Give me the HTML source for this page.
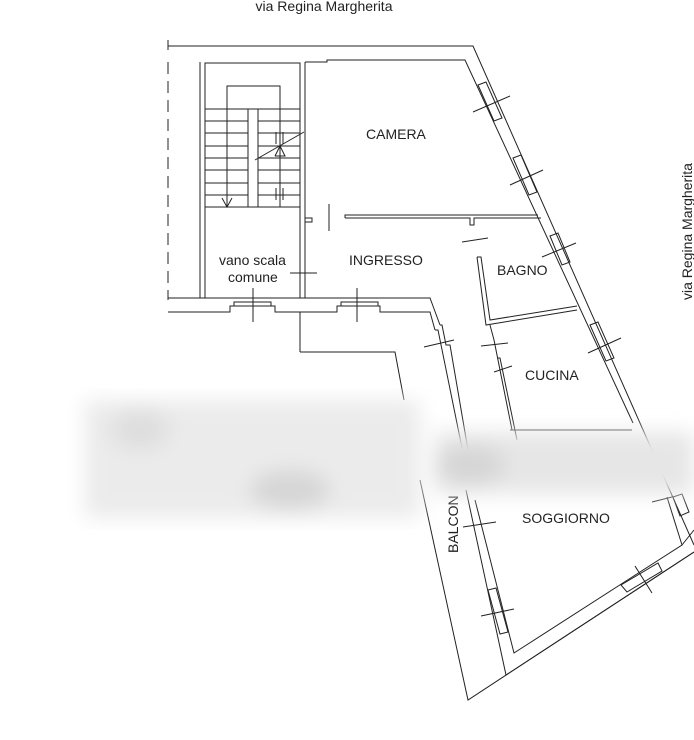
<!DOCTYPE html>
<html><head><meta charset="utf-8"><style>
body{margin:0;background:#fff;width:694px;height:740px;overflow:hidden}
svg{display:block}
text{font-family:"Liberation Sans",sans-serif;font-size:14px;fill:#222}
</style></head><body>
<svg width="694" height="740" viewBox="0 0 694 740" stroke="#222" stroke-width="1" fill="none">
<defs><filter id="b"><feGaussianBlur stdDeviation="10"/></filter></defs>
<text x="324" y="11" text-anchor="middle" stroke="none" font-size="12">via Regina Margherita</text>
<text transform="translate(692,300) rotate(-90)" stroke="none" font-size="12">via Regina Margherita</text>
<polyline points="168,40 168,50"/>
<polyline points="168,46 473,46 694,545"/>
<polyline points="305,62 305,62 327,62 327,60 465,60 633,423"/>
<line x1="168" y1="62" x2="168" y2="300" stroke-dasharray="12,7"/>
<polyline points="200,62 200,298 205,298 205,63 300,63 300,298 305,298 305,62"/>
<polyline points="168,298 200,298"/><polyline points="205,298 300,298"/>
<polyline points="305,298 430,298 440,325"/>
<polyline points="168,312 230,312 230,306 275,306 275,312 337,312 337,306 380,306 380,312 430,312 435,330"/>
<rect x="234" y="302" width="37" height="4"/><rect x="341" y="302" width="37" height="4"/>
<line x1="253" y1="288" x2="253" y2="322"/><line x1="357" y1="288" x2="357" y2="322"/>
<line x1="300" y1="312" x2="300" y2="352"/>
<polyline points="300,352 395,352 404,400"/>
<polyline points="227,207 227,86 280,86 280,207"/>
<g><line x1="205" y1="109" x2="300" y2="109"/><line x1="205" y1="121" x2="300" y2="121"/><line x1="205" y1="133" x2="300" y2="133"/><line x1="205" y1="146" x2="300" y2="146"/><line x1="205" y1="158" x2="300" y2="158"/><line x1="205" y1="170" x2="300" y2="170"/><line x1="205" y1="183" x2="300" y2="183"/><line x1="205" y1="195" x2="300" y2="195"/><line x1="205" y1="207" x2="300" y2="207"/></g>
<rect x="248" y="109" width="10" height="98" fill="#fff"/>
<line x1="255" y1="160" x2="304" y2="132"/>
<polyline points="275,156 280,146 285,156 275,156"/>
<polyline points="222,198 227,207 232,198"/>
<line x1="276" y1="132" x2="276" y2="144"/><line x1="283" y1="132" x2="283" y2="144"/>
<line x1="276" y1="188" x2="276" y2="200"/><line x1="283" y1="188" x2="283" y2="200"/>
<polyline points="305,218 312,218 312,222 305,222"/>
<line x1="329" y1="204" x2="329" y2="231"/>
<polyline points="345,218 345,215 538,215"/>
<polyline points="345,218 470,218 470,225 474,225 474,218 541,218"/>
<line x1="462" y1="242" x2="488" y2="238"/>
<line x1="290" y1="273" x2="317" y2="273"/>
<polyline points="477,257 481,257 490,320 577,306"/>
<polyline points="477,257 486,325 577,310"/>
<polyline points="490,325 494,340 512,430"/>
<polyline points="497,358 500,358 517,440"/>
<line x1="481" y1="346" x2="508" y2="343"/>
<polyline points="435,330 438,330 462,448"/>
<polyline points="440,325 442,325 446,345 450,345 468,450"/>
<line x1="424" y1="347" x2="454" y2="340"/>
<g>
<polygon points="478,85 486,82 502,118 494,121"/>
<line x1="473" y1="112" x2="510" y2="96"/>
<polygon points="513,158 521,155 537,192 529,195"/>
<line x1="510" y1="185" x2="543" y2="170"/>
<polygon points="550,236 558,233 570,262 562,265"/>
<line x1="542" y1="257" x2="576" y2="243"/>
<polygon points="590,325 598,322 614,358 606,361"/>
<line x1="588" y1="353" x2="621" y2="338"/>
<polygon points="673,497 682,494 689,512 680,516"/>
<line x1="652" y1="502" x2="672" y2="497"/>
<polygon points="621,585 658,563 662,571 627,592"/>
<line x1="635" y1="566" x2="652" y2="593"/>
<polygon points="488,590 496,588 508,632 500,634"/>
<line x1="481" y1="616" x2="514" y2="609"/>
<line x1="463" y1="527" x2="496" y2="522"/>
<line x1="494" y1="372" x2="512" y2="366"/>
</g>
<polyline points="420,480 468,700 694,552"/>
<polyline points="466,490 506,675 694,552"/>
<polyline points="475,500 514,653 682,545 667,497"/>
<polyline points="694,530 682,545"/>
<line x1="510" y1="430" x2="632" y2="430"/>
<text x="366" y="139" stroke="none">CAMERA</text>
<text x="349" y="265" stroke="none">INGRESSO</text>
<text x="219" y="265" stroke="none">vano scala</text>
<text x="228" y="282" stroke="none">comune</text>
<text x="497" y="275" stroke="none">BAGNO</text>
<text x="525" y="380" stroke="none">CUCINA</text>
<text x="522" y="523" stroke="none">SOGGIORNO</text>
<text transform="translate(458,553) rotate(-90)" stroke="none">BALCON</text>
<g filter="url(#b)" stroke="none">
<rect x="85" y="400" width="335" height="118" fill="#ebebeb"/>
<rect x="435" y="432" width="259" height="62" fill="#e6e6e6"/>
<ellipse cx="290" cy="490" rx="40" ry="20" fill="#d6d6d6"/>
<ellipse cx="470" cy="465" rx="35" ry="20" fill="#d6d6d6"/>
<ellipse cx="140" cy="430" rx="30" ry="20" fill="#dedede"/>
</g>
</svg>
</body></html>
